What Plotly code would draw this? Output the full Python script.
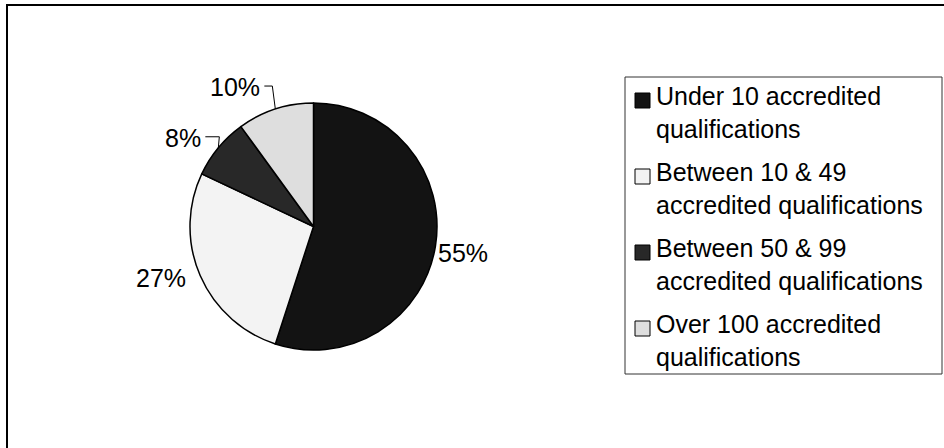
import math
import plotly.graph_objects as go

# Share of providers by number of accredited qualifications
categories = [
    "Under 10 accredited qualifications",
    "Between 10 & 49 accredited qualifications",
    "Between 50 & 99 accredited qualifications",
    "Over 100 accredited qualifications",
]
legend_lines = [
    ["Under 10 accredited", "qualifications"],
    ["Between 10 & 49", "accredited qualifications"],
    ["Between 50 & 99", "accredited qualifications"],
    ["Over 100 accredited", "qualifications"],
]
shares = [55, 27, 8, 10]

fills = ["#131313", "#f3f3f3", "#282828", "#dedede"]

W, H = 944, 448
FONT = dict(family="Arial, Liberation Sans, sans-serif", size=25, color="#000000")


def px(x):
    return x / W


def py(y):
    return 1 - y / H


# pie geometry (pixels)
cx, cy, r = 313.5, 226.5, 123.5

fig = go.Figure(
    go.Pie(
        labels=categories,
        values=shares,
        sort=False,
        direction="clockwise",
        rotation=0,
        textinfo="none",
        hoverinfo="label+percent",
        marker=dict(colors=fills, line=dict(color="#000000", width=1.5)),
        domain=dict(x=[px(cx - r), px(cx + r)], y=[py(cy + r), py(cy - r)]),
        showlegend=False,
    )
)

shapes = []
annotations = []

# outer chart frame (left and top edges visible)
shapes.append(dict(type="rect", xref="paper", yref="paper",
                   x0=px(7), y0=py(5), x1=px(W + 20), y1=py(H + 20),
                   line=dict(color="#000000", width=2), fillcolor="rgba(0,0,0,0)"))

# percentage labels placed around the slice mid-angles
total = sum(shares)
label_style = [
    # (mode, dx, dy, leader length) relative to edge point at the slice mid-angle
    ("right", 1, 7, 0),
    ("left", -12, 2, 0),
    ("leader", 1, -11, 14),
    ("leader", -3, -23, 8),
]
cum = 0
for v, (mode, dx, dy, seg) in zip(shares, label_style):
    mid = (cum + v / 2) / total * 2 * math.pi
    cum += v
    ex = cx + r * math.sin(mid)
    ey = cy - r * math.cos(mid)
    pct = f"{round(100 * v / total)}%"
    if mode == "right":
        annotations.append(dict(x=px(ex + dx), y=py(ey + dy), text=pct, xanchor="left",
                                yanchor="middle", showarrow=False, font=FONT))
    elif mode == "left":
        annotations.append(dict(x=px(ex + dx), y=py(ey + dy), text=pct, xanchor="right",
                                yanchor="middle", showarrow=False, font=FONT))
    else:
        lx, ly = ex + dx, ey + dy
        path = f"M {px(ex)} {py(ey)} L {px(lx)} {py(ly)} L {px(lx - seg)} {py(ly)}"
        shapes.append(dict(type="path", xref="paper", yref="paper", path=path,
                           line=dict(color="#000000", width=1)))
        annotations.append(dict(x=px(lx - seg - 2), y=py(ly + 1), text=pct, xanchor="right",
                                yanchor="middle", showarrow=False, font=FONT))

# legend box
lx0, ly0, lx1, ly1 = 625, 77, 942, 374
shapes.append(dict(type="rect", xref="paper", yref="paper",
                   x0=px(lx0), y0=py(ly1), x1=px(lx1), y1=py(ly0),
                   line=dict(color="#333333", width=1), fillcolor="#ffffff"))

first_line = 96
entry_pitch = 76
line_gap = 33
for i, (lines, col) in enumerate(zip(legend_lines, fills)):
    y0 = first_line + i * entry_pitch
    shapes.append(dict(type="rect", xref="paper", yref="paper",
                       x0=px(635), y0=py(y0 + 12), x1=px(650), y1=py(y0 - 3),
                       line=dict(color="#000000", width=1), fillcolor=col))
    for j, t in enumerate(lines):
        annotations.append(dict(x=px(654), y=py(y0 + j * line_gap), text=t,
                                xanchor="left", yanchor="middle", showarrow=False,
                                font=FONT))

fig.update_layout(
    width=W,
    height=H,
    margin=dict(l=0, r=0, t=0, b=0),
    paper_bgcolor="#ffffff",
    plot_bgcolor="#ffffff",
    shapes=shapes,
    annotations=annotations,
)

fig.write_html("out.html")
